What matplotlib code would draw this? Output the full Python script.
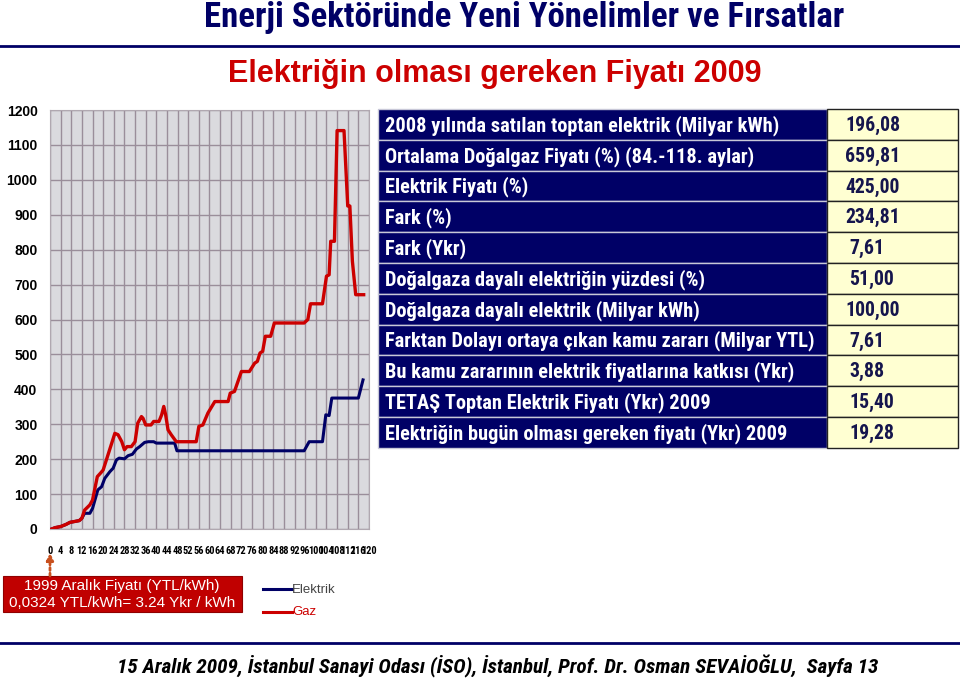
import matplotlib
matplotlib.use("Agg")
import matplotlib.pyplot as plt
from matplotlib.patches import Rectangle, FancyArrowPatch

# ---------------- data ----------------
gaz_x = [0.6, 2, 4, 6, 7.5, 11, 12, 13, 15, 16, 17.8, 19, 20, 24.4, 25.6, 27, 28, 29, 30.6, 32,
         33, 34.4, 35, 36, 38, 39, 41, 42, 42.8, 43.5, 44.4, 45.6, 47.5, 55, 56, 57.5, 59.4, 62,
         67, 67.8, 69.4, 72, 75, 77, 78, 79, 80, 81, 83, 84.4, 95.6, 97, 98, 102.5, 104, 105,
         105.6, 107, 108, 110.6, 112, 112.8, 113.75, 115, 118]
gaz_y = [0, 4, 7, 13, 19, 24, 31, 54, 69, 83, 150, 160, 169, 274, 270, 250, 227, 236, 236, 250,
         303, 322, 317, 298, 298, 308, 308, 327, 351, 327, 284, 270, 250, 250, 294, 298, 332, 365,
         365, 389, 394, 451, 451, 475, 480, 504, 509, 552, 552, 590, 590, 600, 645, 645, 724, 728,
         824, 824, 1141, 1141, 925, 925, 767, 671, 671]

elek_x = [0.6, 2, 4, 6, 7.5, 11, 12, 13, 15, 16, 18, 19.4, 20.6, 22.5, 23.75, 25, 26, 28, 29.4,
          31, 32.5, 33.75, 35.6, 37, 39, 40, 46.9, 47.75, 95.6, 97.5, 102.5, 103.75, 105, 106,
          116, 117.75]
elek_y = [0, 4, 7, 13, 19, 24, 31, 45, 45, 59, 112, 121, 145, 164, 174, 198, 203, 201, 210,
          214, 229, 236, 248, 250, 250, 246, 246, 224, 224, 250, 250, 327, 325, 375, 375, 427]

x_ticks = list(range(0, 121, 4))
y_ticks = list(range(0, 1201, 100))

table_labels = [
    "2008 yılında satılan toptan elektrik (Milyar kWh)",
    "Ortalama Doğalgaz Fiyatı (%) (84.-118. aylar)",
    "Elektrik Fiyatı (%)",
    "Fark (%)",
    "Fark (Ykr)",
    "Doğalgaza dayalı elektriğin yüzdesi (%)",
    "Doğalgaza dayalı elektrik (Milyar kWh)",
    "Farktan Dolayı ortaya çıkan kamu zararı (Milyar YTL)",
    "Bu kamu zararının elektrik fiyatlarına katkısı (Ykr)",
    "TETAŞ Toptan Elektrik Fiyatı (Ykr) 2009",
    "Elektriğin bugün olması gereken fiyatı (Ykr) 2009",
]
table_values = ["196,08", "659,81", "425,00", "234,81", "7,61", "51,00", "100,00",
                "7,61", "3,88", "15,40", "19,28"]

title = "Enerji Sektöründe Yeni Yönelimler ve Fırsatlar"
subtitle = "Elektriğin olması gereken Fiyatı 2009"
footer = "15 Aralık 2009, İstanbul Sanayi Odası (İSO), İstanbul, Prof. Dr. Osman SEVAİOĞLU,  Sayfa 13"
note_lines = ["1999 Aralık Fiyatı (YTL/kWh)", "0,0324 YTL/kWh= 3.24 Ykr / kWh"]

NARROW = ["Roboto Condensed", "DejaVu Sans"]
ARIAL = ["Liberation Sans", "DejaVu Sans"]

NAVY = "#000066"
RED = "#cc0000"

W, H = 960, 679
fig = plt.figure(figsize=(W / 100, H / 100), dpi=100)
fig.patch.set_facecolor("white")

# ---------------- main chart ----------------
ax = fig.add_axes([50 / W, 1 - 529 / H, 319 / W, 419 / H])
ax.set_facecolor("#dadade")
ax.set_xlim(0, 120)
ax.set_ylim(0, 1200)
ax.set_xticks(x_ticks)
ax.set_yticks(y_ticks)
ax.grid(True, color="#9a8e9a", lw=1.0)
ax.set_axisbelow(True)
for s in ax.spines.values():
    s.set_color("#b0a8b0")
    s.set_linewidth(0.8)
ax.tick_params(axis="both", length=0)
ax.tick_params(axis="y", pad=9)
ax.tick_params(axis="x", pad=12)
for lab in ax.get_yticklabels():
    lab.set_fontfamily(ARIAL)
    lab.set_fontweight("bold")
    lab.set_fontsize(10)
for lab in ax.get_xticklabels():
    lab.set_fontfamily(NARROW)
    lab.set_fontweight("bold")
    lab.set_fontsize(7.5)

ax.plot(elek_x, elek_y, color="#000066", lw=2.2, solid_joinstyle="round", zorder=3)
ax.plot(gaz_x, gaz_y, color=RED, lw=2.4, solid_joinstyle="round", zorder=4)

# ---------------- overlay (pixel coords) ----------------
ov = fig.add_axes([0, 0, 1, 1], zorder=10)
ov.set_xlim(0, W)
ov.set_ylim(H, 0)
ov.axis("off")
ov.patch.set_alpha(0)

# title
ov.text(524, 17, title, color=NAVY, fontsize=25, fontweight="bold",
        fontfamily=NARROW, ha="center", va="center")
ov.plot([0, W], [46, 46], color=NAVY, lw=2)
ov.text(495, 74, subtitle, color=RED, fontsize=22, fontweight="bold",
        fontfamily=ARIAL, ha="center", va="center")

# table
top = 109
rh = 30.8
x0, x1, x2 = 378, 827, 958
for i, (lab, val) in enumerate(zip(table_labels, table_values)):
    y = top + i * rh
    ov.add_patch(Rectangle((x0, y), x1 - x0, rh, facecolor=NAVY,
                           edgecolor="#c8c8d8", lw=1.0))
    ov.add_patch(Rectangle((x1, y), x2 - x1, rh, facecolor="#ffffd2",
                           edgecolor="#222222", lw=1.0))
    ov.text(x0 + 7, y + rh / 2 + 1, lab, color="white", fontsize=14.7,
            fontweight="bold", fontfamily=NARROW, ha="left", va="center")
    ov.text(845 if len(val) > 5 else 849, y + rh / 2 + 1, val, color="#15154d",
            fontsize=14.2, fontweight="bold", fontfamily=NARROW, ha="left", va="center")

# note box
ov.add_patch(Rectangle((3, 576), 239, 36, facecolor="#c00000", edgecolor="#900000", lw=0.8))
ov.text(122, 586, note_lines[0], color="white", fontsize=11, fontfamily=ARIAL,
        ha="center", va="center")
ov.text(122, 603, note_lines[1], color="white", fontsize=11, fontfamily=ARIAL,
        ha="center", va="center")
arr = FancyArrowPatch((50, 576), (50, 553), arrowstyle="-|>", mutation_scale=10,
                      color="#c8501e", lw=2, linestyle=(0, (1, 1)),
                      shrinkA=0, shrinkB=0)
ov.add_patch(arr)

# legend
ov.plot([263, 292], [589, 589], color="#000066", lw=2.2)
ov.text(292, 590, "Elektrik", color="#444444", fontsize=9.5, fontfamily=ARIAL,
        ha="left", va="center")
ov.plot([263, 292], [612, 612], color=RED, lw=2.2)
ov.text(292, 612, "Gaz", color=RED, fontsize=9.5, fontfamily=ARIAL,
        ha="left", va="center")

# footer
ov.plot([0, W], [643, 643], color=NAVY, lw=2)
ov.text(498, 666, footer, color="black", fontsize=15.2, fontweight="bold",
        fontstyle="italic", fontfamily=NARROW, ha="center", va="center")

fig.savefig("out.png", dpi=100)
